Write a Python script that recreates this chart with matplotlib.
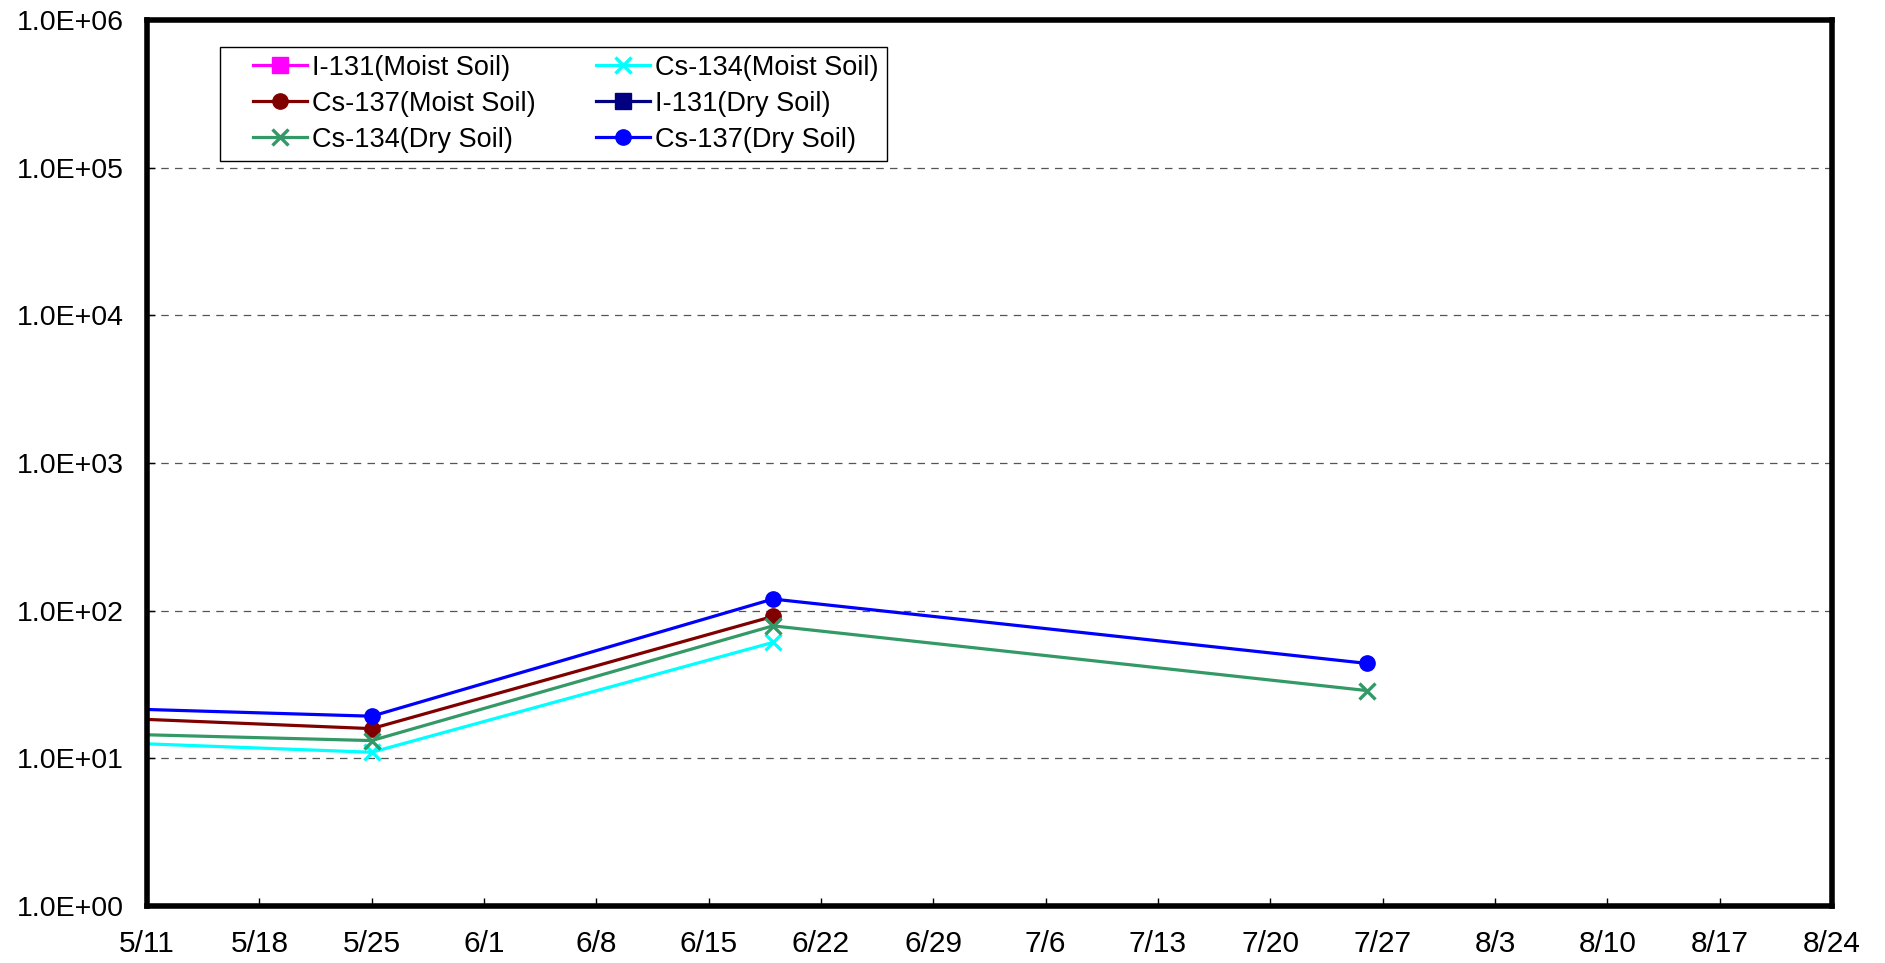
import datetime as dt
import math
import matplotlib
matplotlib.use('Agg')
import matplotlib.pyplot as plt
import matplotlib.dates as mdates
from matplotlib.ticker import FixedLocator, FuncFormatter
from matplotlib.legend_handler import HandlerLine2D

plt.rcParams['font.family'] = ['Liberation Sans', 'DejaVu Sans']

# sample dates (first one lies left of the visible range)
dates_moist = [dt.datetime(2011, 4, 27), dt.datetime(2011, 5, 25), dt.datetime(2011, 6, 19)]
dates_dry = [dt.datetime(2011, 4, 27), dt.datetime(2011, 5, 25), dt.datetime(2011, 6, 19),
             dt.datetime(2011, 7, 26)]

# values
i131_moist = []
cs134_moist = [14.3, 11.0, 61]
cs137_moist = [21.2, 15.9, 91.5]
i131_dry = []
cs134_dry = [15.8, 13.2, 79, 28.8]
cs137_dry = [23.8, 19.3, 120, 44]

tick_labels = ['5/11', '5/18', '5/25', '6/1', '6/8', '6/15', '6/22', '6/29',
               '7/6', '7/13', '7/20', '7/27', '8/3', '8/10', '8/17', '8/24']

fig = plt.figure(figsize=(18.85, 9.63), dpi=100)
ax = fig.add_axes([0.078, 0.0592, 0.8939, 0.9198])

lw = 2.3
ms = 11
h1, = ax.plot([], [], color='#FF00FF', marker='s', lw=lw, ms=ms, label='I-131(Moist Soil)')
h2, = ax.plot(dates_moist, cs134_moist, color='#00FFFF', marker='x', lw=lw, ms=ms, mew=2.4,
              label='Cs-134(Moist Soil)')
h3, = ax.plot(dates_moist, cs137_moist, color='#800000', marker='o', lw=lw, ms=ms,
              label='Cs-137(Moist Soil)')
h4, = ax.plot([], [], color='#000080', marker='s', lw=lw, ms=ms, label='I-131(Dry Soil)')
h5, = ax.plot(dates_dry, cs134_dry, color='#339966', marker='x', lw=lw, ms=ms, mew=2.4,
              label='Cs-134(Dry Soil)')
h6, = ax.plot(dates_dry, cs137_dry, color='#0000FF', marker='o', lw=lw, ms=ms,
              label='Cs-137(Dry Soil)')

ax.set_yscale('log')
ax.set_ylim(1, 1e6)
start = dt.datetime(2011, 5, 11)
ax.set_xlim(start, start + dt.timedelta(days=105))

tick_pos = [mdates.date2num(start + dt.timedelta(days=7 * i)) for i in range(len(tick_labels))]
ax.xaxis.set_major_locator(FixedLocator(tick_pos))
ax.set_xticklabels(tick_labels)
ax.yaxis.set_major_locator(FixedLocator([10 ** k for k in range(7)]))
ax.yaxis.set_minor_locator(FixedLocator([]))
ax.yaxis.set_major_formatter(FuncFormatter(lambda v, p: '1.0E+%02d' % round(math.log10(v))))

ax.tick_params(axis='x', direction='in', length=6, width=1, labelsize=21.5, pad=17)
ax.tick_params(axis='y', direction='in', length=6, width=1, labelsize=20.5, pad=17)

ax.grid(axis='y', which='major', linestyle=(0, (6, 5)), color='#555555', lw=0.9)
for s in ax.spines.values():
    s.set_linewidth(4)

hl = HandlerLine2D(xpad=0.9)
leg = ax.legend(handles=[h1, h3, h5, h2, h4, h6], ncol=2, loc='upper left',
                bbox_to_anchor=(0.0435, 0.97), fontsize=19.5, fancybox=False,
                edgecolor='black', framealpha=1, handlelength=2.9, columnspacing=1.31,
                borderpad=0.3, labelspacing=0.37, handletextpad=0.2, borderaxespad=0,
                handler_map={h: hl for h in [h1, h2, h3, h4, h5, h6]})
leg.get_frame().set_linewidth(1.0)

fig.savefig('out.png', dpi=100)
